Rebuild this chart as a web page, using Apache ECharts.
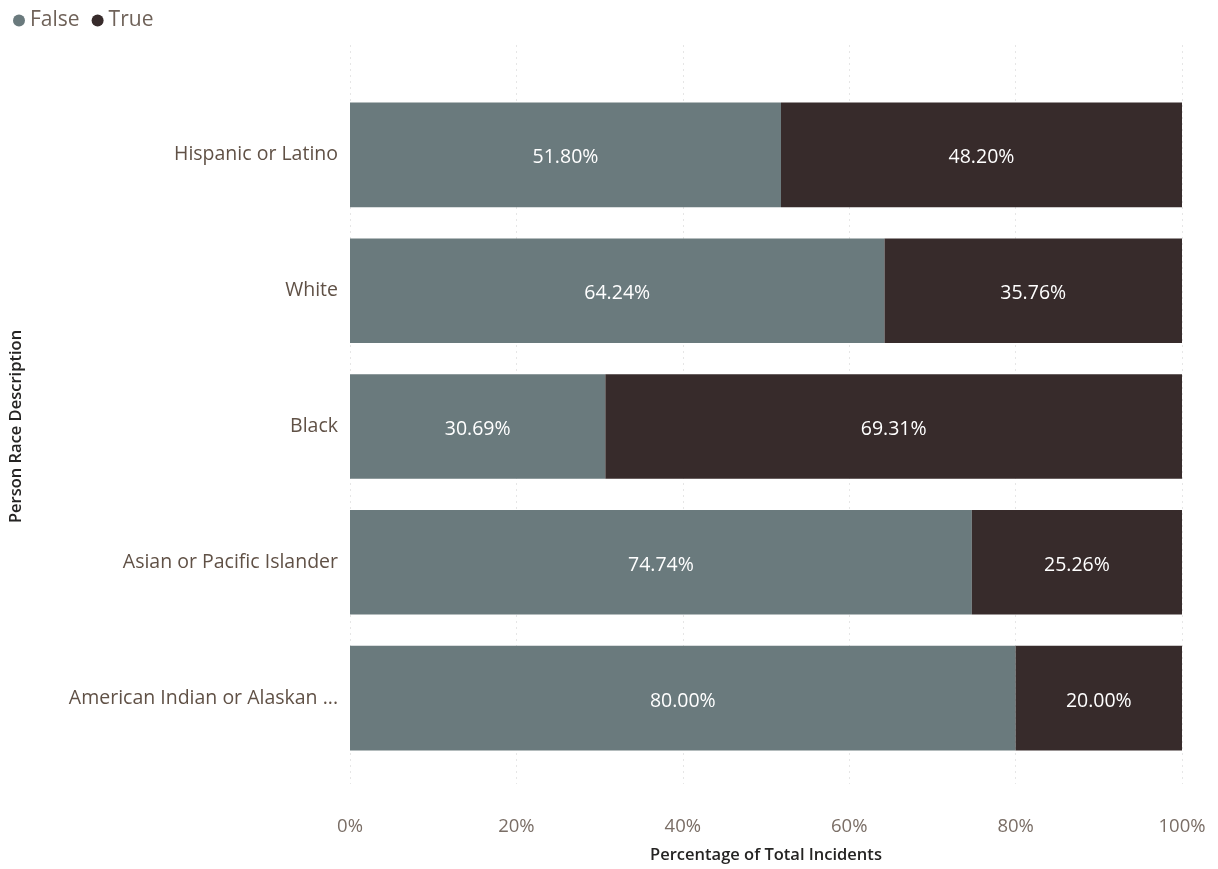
<!DOCTYPE html>
<html><head><meta charset="utf-8">
<script src="https://cdn.jsdelivr.net/npm/echarts@6/dist/echarts.min.js"></script>
<style>html,body{margin:0;padding:0;background:#fff}#c{width:1218px;height:869px}</style>
</head><body><div id="c"></div>
<script>
const categories = ["Hispanic or Latino","White","Black","Asian or Pacific Islander","American Indian or Alaskan ..."];
const falseValues = [51.80, 64.24, 30.69, 74.74, 80.00];
const trueValues = [48.20, 35.76, 69.31, 25.26, 20.00];
const tickLabels = ["0%","20%","40%","60%","80%","100%"];

const font = '"Open Sans", "Noto Sans", sans-serif';
const chart = echarts.init(document.getElementById('c'));
chart.setOption({
  animation:false,
  legend:{left:8,top:5,itemWidth:12,itemHeight:12,itemGap:12,icon:'circle',
    textStyle:{fontFamily:font,fontSize:21,color:'#6f6259',padding:[2,0,0,0]},
    data:['False','True']},
  grid:[
    {left:350,right:36,top:45,bottom:79},
    {left:350,right:36,top:87,bottom:103}
  ],
  xAxis:[
    {gridIndex:0,type:'value',min:0,max:100,interval:20,
      axisLine:{show:false},axisTick:{show:false},
      splitLine:{show:true,lineStyle:{type:[2,4],color:'#e6e6e6',width:1}},
      axisLabel:{margin:33,fontFamily:font,fontSize:18.5,color:'#7a6e66',
        formatter:v=>tickLabels[Math.round(v/20)]},
      name:'Percentage of Total Incidents',nameLocation:'middle',nameGap:63,
      nameTextStyle:{fontFamily:font,fontSize:16.5,fontWeight:600,color:'#252423'}},
    {gridIndex:1,type:'value',min:0,max:100,show:false}
  ],
  yAxis:[
    {gridIndex:0,type:'category',data:categories,show:false},
    {gridIndex:1,type:'category',data:categories,inverse:true,
      axisLine:{show:false},axisTick:{show:false},
      axisLabel:{margin:12,fontFamily:font,fontSize:19.5,color:'#605146',padding:[12,0,0,0]},
      name:'Person Race Description',nameLocation:'middle',nameGap:325,nameRotate:90,
      nameTextStyle:{fontFamily:font,fontSize:16.5,fontWeight:600,color:'#252423'}}
  ],
  series:[
    {name:'False',type:'bar',stack:'s',xAxisIndex:1,yAxisIndex:1,data:falseValues,
      barCategoryGap:'23%',itemStyle:{color:'#6a7a7d'},
      label:{show:true,position:'inside',offset:[0,3],formatter:p=>p.value.toFixed(2)+'%',
        fontFamily:font,fontSize:19.5,color:'#ffffff'}},
    {name:'True',type:'bar',stack:'s',xAxisIndex:1,yAxisIndex:1,data:trueValues,
      barCategoryGap:'23%',itemStyle:{color:'#372b2b'},
      label:{show:true,position:'inside',offset:[0,3],formatter:p=>p.value.toFixed(2)+'%',
        fontFamily:font,fontSize:19.5,color:'#ffffff'}}
  ]
});
</script></body></html>
